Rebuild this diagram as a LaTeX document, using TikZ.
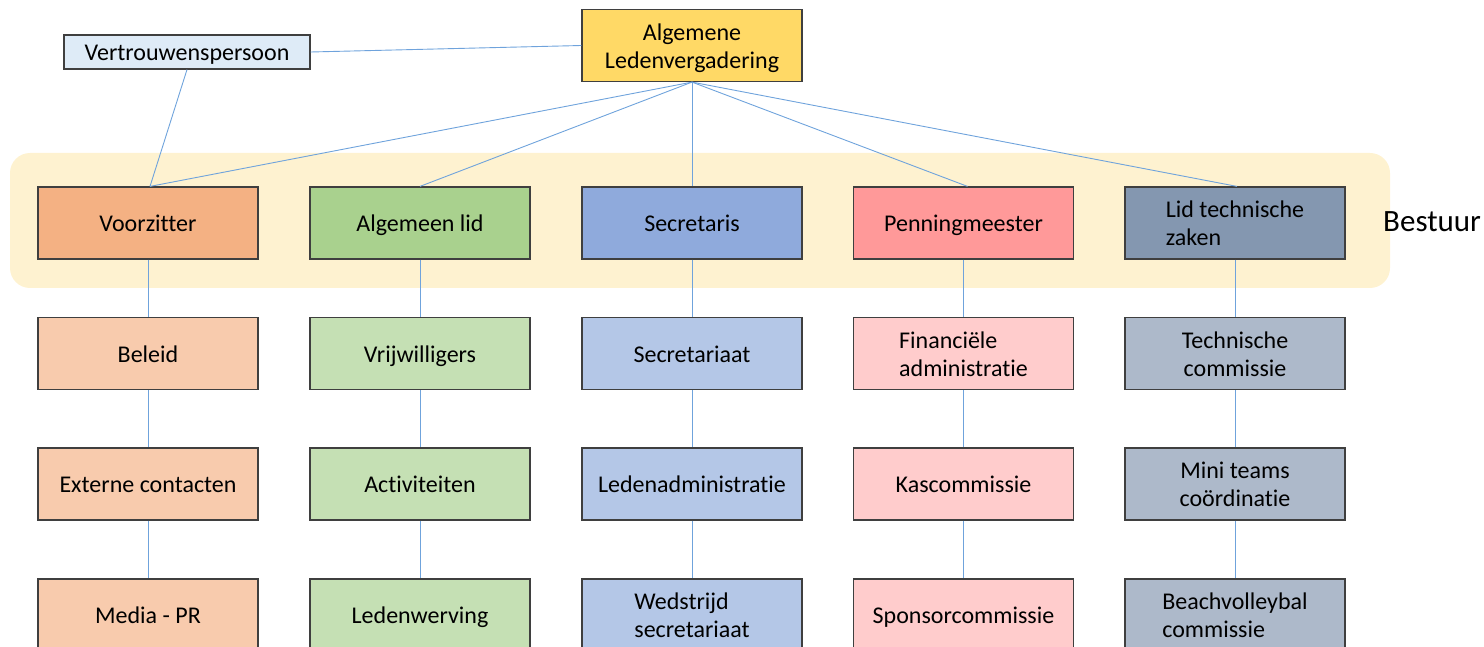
\documentclass[tikz,border=0pt]{standalone}
\usepackage{fontspec}
\setmainfont{Carlito}[Ligatures={NoCommon}]
\definecolor{lineblue}{HTML}{6FA3DC}
\definecolor{boxborder}{HTML}{3F3F3F}
\definecolor{bestuurbg}{HTML}{FEF2D0}
\definecolor{cALV}{HTML}{FFD966}
\definecolor{cVP}{HTML}{DEEBF7}
\definecolor{cA1}{HTML}{F4B183}
\definecolor{cA2}{HTML}{F8CBAD}
\definecolor{cB1}{HTML}{A9D18E}
\definecolor{cB2}{HTML}{C5E0B4}
\definecolor{cC1}{HTML}{8FAADC}
\definecolor{cC2}{HTML}{B4C7E7}
\definecolor{cD1}{HTML}{FF9999}
\definecolor{cD2}{HTML}{FFCCCC}
\definecolor{cE1}{HTML}{8497B0}
\definecolor{cE2}{HTML}{ADB9CA}
\newcommand\twoline[3]{\begin{tabular}[t]{@{}#1@{}}#2\\#3\end{tabular}}
\tikzset{
  box/.style={draw=boxborder, line width=1.2pt, minimum width=220pt, minimum height=72pt, inner sep=0pt,
    font=\fontsize{24}{28}\selectfont, text=black,
    execute at begin node={\rule{0pt}{25.6pt}}, execute at end node={\rule[-8.4pt]{0pt}{8.4pt}}},
  ml/.style={execute at begin node={\rule{0pt}{22.4pt}}},
  conn/.style={draw=lineblue, line width=0.9pt},
}
\begin{document}
\begin{tikzpicture}[x=1pt,y=-1pt]
\useasboundingbox (0,0) rectangle (1484,647);
\begin{scope}
\clip (0,0) rectangle (1484,647);
% Bestuur background
\fill[bestuurbg, rounded corners=20pt] (10,153) rectangle (1390,288);
\node[font=\fontsize{31}{34}\selectfont, anchor=west, inner sep=0pt] (bestuur) at (1383,222) {Bestuur};

% top
\node[box, ml, fill=cALV] (alv) at (692,45.5) {\twoline{c}{Algemene}{Ledenvergadering}};
\node[box, fill=cVP, minimum width=246pt, minimum height=32pt,
  execute at begin node={\rule{0pt}{19pt}}, execute at end node={\rule[-5pt]{0pt}{5pt}}] (vp) at (187,52) {Vertrouwenspersoon};

% row 1
\node[box, fill=cA1] (voorzitter) at (148,223) {Voorzitter};
\node[box, fill=cB1] (alglid) at (420,223) {Algemeen lid};
\node[box, fill=cC1] (secretaris) at (692,223) {Secretaris};
\node[box, fill=cD1] (penning) at (963.5,223) {Penningmeester};
\node[box, ml, fill=cE1] (lidtech) at (1235,223) {\twoline{l}{Lid technische}{zaken}};

% row 2
\node[box, fill=cA2] (beleid) at (148,353.5) {Beleid};
\node[box, fill=cB2] (vrijw) at (420,353.5) {Vrijwilligers};
\node[box, fill=cC2] (secr) at (692,353.5) {Secretariaat};
\node[box, ml, fill=cD2] (finadm) at (963.5,353.5) {\twoline{l}{Financiële}{administratie}};
\node[box, ml, fill=cE2] (techcom) at (1235,353.5) {\twoline{c}{Technische}{commissie}};

% row 3
\node[box, fill=cA2] (extern) at (148,484) {Externe contacten};
\node[box, fill=cB2] (activ) at (420,484) {Activiteiten};
\node[box, fill=cC2] (ledenadm) at (692,484) {Ledenadministratie};
\node[box, fill=cD2] (kas) at (963.5,484) {Kascommissie};
\node[box, ml, fill=cE2] (mini) at (1235,484) {\twoline{c}{Mini teams}{coördinatie}};

% row 4
\node[box, fill=cA2] (media) at (148,615) {Media - PR};
\node[box, fill=cB2] (werving) at (420,615) {Ledenwerving};
\node[box, ml, fill=cC2] (wedstrijd) at (692,615) {\twoline{l}{Wedstrijd}{secretariaat}};
\node[box, fill=cD2] (sponsor) at (963.5,615) {Sponsorcommissie};
\node[box, ml, fill=cE2] (beach) at (1235,615) {\twoline{l}{Beachvolleybal}{commissie}};

% connectors
\draw[conn] (vp.east) -- (alv.west);
\draw[conn] (vp.south) -- ([xshift=2pt]voorzitter.north);
\draw[conn] (alv.south) -- ([xshift=2pt]voorzitter.north);
\draw[conn] (alv.south) -- (alglid.north);
\draw[conn] (alv.south) -- (secretaris.north);
\draw[conn] (alv.south) -- ([xshift=4pt]penning.north);
\draw[conn] (alv.south) -- ([xshift=2pt]lidtech.north);

\foreach \a/\b in {voorzitter/beleid, beleid/extern, extern/media,
                   alglid/vrijw, vrijw/activ, activ/werving,
                   secretaris/secr, secr/ledenadm, ledenadm/wedstrijd,
                   penning/finadm, finadm/kas, kas/sponsor,
                   lidtech/techcom, techcom/mini, mini/beach}
  \draw[conn] (\a.south) -- (\b.north);
\end{scope}
\end{tikzpicture}
\end{document}
